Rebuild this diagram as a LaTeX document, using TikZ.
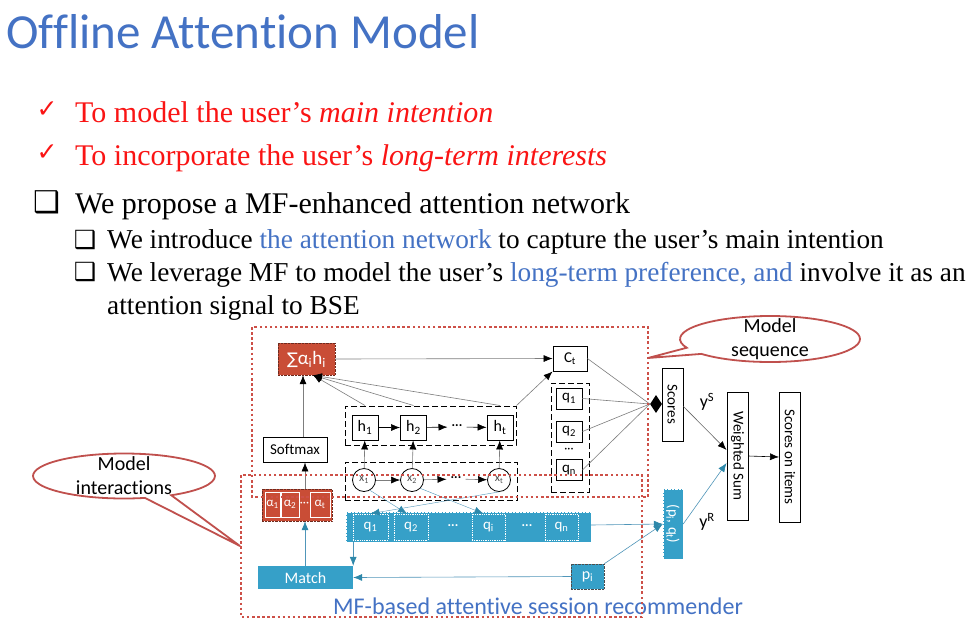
\documentclass[tikz,border=0pt]{standalone}
\usepackage{fontspec}
\setmainfont{Liberation Serif}
\newfontfamily\calib[Ligatures=NoCommon]{Carlito}
\newfontfamily\dejavu{DejaVu Sans}
\usetikzlibrary{arrows.meta,positioning,calc,shapes.geometric,shapes.callouts}
\definecolor{titleblue}{RGB}{68,114,196}
\definecolor{slidered}{RGB}{250,20,20}
\definecolor{boxred}{RGB}{201,77,54}
\definecolor{boxblue}{RGB}{54,160,200}
\definecolor{linkblue}{RGB}{80,150,185}
\definecolor{dotred}{RGB}{205,80,72}
\definecolor{callred}{RGB}{192,80,77}
\definecolor{wire}{RGB}{125,125,125}
\newcommand{\fs}[1]{\fontsize{#1}{#1}\selectfont}

\begin{document}
\begin{tikzpicture}[x=1pt,y=-1pt,>=Latex,
  every node/.style={inner sep=0pt,align=center},
  blk/.style={draw,line width=0.9pt,fill=white,font=\calib\fs{15}},
  redbox/.style={draw=boxred!55!black,densely dotted,fill=boxred,text=white,font=\calib\fs{14}},
  bluebox/.style={draw=white,densely dotted,fill=boxblue,text=white,font=\calib\fs{14}},
  acell/.style={draw=white,line width=0.8pt,minimum height=25,text=white,font=\calib\fs{13}},
  qcell/.style={draw=white,densely dotted,line width=0.8pt,minimum height=26,text=white,font=\calib\fs{15}},
  dashbox/.style={draw,line width=1pt,dash pattern=on 6pt off 3pt},
  xnode/.style={draw,circle,line width=0.8pt,minimum size=23,fill=white,font=\calib\fs{12},text=black!70},
  wirearr/.style={draw=wire,line width=0.6pt,-{Latex[length=9pt,width=7pt,color=black]}},
  chainarr/.style={draw=black,line width=0.6pt,-{Latex[length=9pt,width=7pt]}},
  bluearr/.style={draw=linkblue,line width=0.6pt,-{Latex[length=9pt,width=7pt,color=boxblue!85!black]}},
  region/.style={draw=dotred,line width=2.5pt,dash pattern=on 2.5pt off 2.6pt},
  bubble/.style={ellipse callout,draw=callred,line width=1.8pt,fill=white,callout pointer arc=18},
  bubbletext/.style={font=\calib\fs{20},align=center}
]
\fill[white] (0,0) rectangle (977,625);
\useasboundingbox (0,0) rectangle (977,625);

% slide text
\node[anchor=base west,text=titleblue,font=\calib\fs{49}] (title) at (6,48) {Offline Attention Model};
\node[text=slidered,font=\dejavu\fs{25}] (chk1) at (47,110) {✓};
\node[anchor=base west,text=slidered,font=\fs{30}] (goal1) at (75,122) {To model the user’s \textit{main intention}};
\node[text=slidered,font=\dejavu\fs{25}] (chk2) at (47,153) {✓};
\node[anchor=base west,text=slidered,font=\fs{30}] (goal2) at (75,165) {To incorporate the user’s \textit{long-term interests}};
\node[font=\dejavu\fs{30}] (sq1) at (47,202) {❑};
\node[anchor=base west,font=\fs{30}] (pt1) at (75,213) {We propose a MF-enhanced attention network};
\node[font=\dejavu\fs{25}] (sq2) at (85,240) {❑};
\node[anchor=base west,font=\fs{27.3}] (pt2) at (107,248) {We introduce \textcolor{titleblue}{the attention network} to capture the user’s main intention};
\node[font=\dejavu\fs{25}] (sq3) at (85,272) {❑};
\node[anchor=base west,font=\fs{27.3}] (pt3) at (107,281) {We leverage MF to model the user’s \textcolor{titleblue}{long-term preference, and} involve it as an};
\node[anchor=base west,font=\fs{27.3}] (pt3b) at (107,314) {attention signal to BSE};

% sequence part
\node[redbox,minimum width=57,minimum height=32,font=\calib\fs{19}] (sum) at (306.5,359) {{\dejavu\fs{16}∑}α\textsubscript{i}h\textsubscript{i}};
\node[blk,minimum width=34,minimum height=25] (ct) at (570,358.5) {C\textsubscript{t}};
\node[blk,minimum width=64,minimum height=25] (sm) at (295,449.5) {Softmax};
\node[dashbox,minimum width=171,minimum height=39] (hgrp) at (430.5,425.5) {};
\node[blk,minimum width=26,minimum height=25,font=\calib\fs{16}] (h1) at (365,427.5) {h\textsubscript{1}};
\node[blk,minimum width=26,minimum height=25,font=\calib\fs{16}] (h2) at (413.5,427.5) {h\textsubscript{2}};
\node[blk,minimum width=26,minimum height=25,font=\calib\fs{16}] (ht) at (500,427.5) {h\textsubscript{t}};
\node[font=\calib\fs{14},inner xsep=4pt] (hdots) at (457,427) {···};
\node[dashbox,minimum width=172,minimum height=38] (xgrp) at (431,481) {};
\node[xnode] (x1) at (364,480) {x\textsubscript{1}};
\node[xnode] (x2) at (412,480) {x\textsubscript{2}};
\node[xnode] (xt) at (499,480) {x\textsubscript{t}};
\node[font=\calib\fs{14},inner xsep=4pt] (xdots) at (456,479) {···};
\node[dashbox,minimum width=38,minimum height=109] (qgrp) at (570,437.5) {};
\node[blk,minimum width=26,minimum height=21] (q1) at (569,398.5) {q\textsubscript{1}};
\node[blk,minimum width=26,minimum height=21] (q2) at (569,431.5) {q\textsubscript{2}};
\node[font=\calib\fs{12}] (qdots) at (569,450) {···};
\node[blk,minimum width=26,minimum height=21] (qn) at (569,470) {q\textsubscript{n}};

% output side
\node[diamond,fill=black,minimum width=12,minimum height=18] (dia) at (656,404) {};
\node[blk,minimum width=21,minimum height=73] (scores) at (672.5,404.5) {\rotatebox{-90}{Scores}};
\node[blk,minimum width=21,minimum height=128] (ws) at (737.5,456) {\rotatebox{-90}{Weighted Sum}};
\node[blk,minimum width=21,minimum height=130] (soi) at (790,457) {\rotatebox{-90}{Scores on items}};
\node[bluebox,minimum width=20,minimum height=70,font=\calib\fs{15}] (pq) at (673,524) {\rotatebox{-90}{(p\textsubscript{i}, q\textsubscript{t})}};
\node[font=\calib\fs{18}] (ys) at (707,402) {y\textsuperscript{S}};
\node[font=\calib\fs{18}] (yr) at (707,522) {y\textsuperscript{R}};

% MF part
\node[redbox,minimum width=70,minimum height=32] (alpha) at (297,505) {};
\node[acell,minimum width=15] (a1) at (272.5,504.5) {α\textsubscript{1}};
\node[acell,minimum width=18] (a2) at (290,504.5) {α\textsubscript{2}};
\node[text=white,font=\calib\fs{12}] (adots) at (304.5,504) {···};
\node[acell,minimum width=20] (at) at (320,504.5) {α\textsubscript{t}};
\node[bluebox,minimum width=245,minimum height=30] (qrow) at (468.5,527) {};
\node[qcell,minimum width=35] (qq1) at (370.5,527) {q\textsubscript{1}};
\node[qcell,minimum width=34] (qq2) at (411,527) {q\textsubscript{2}};
\node[text=white,font=\calib\fs{14}] (qqdots) at (453,527) {···};
\node[qcell,minimum width=33] (qqi) at (488.5,527) {q\textsubscript{i}};
\node[text=white,font=\calib\fs{14}] (qqdots2) at (527,527) {···};
\node[qcell,minimum width=33] (qqn) at (561.5,527) {q\textsubscript{n}};
\node[bluebox,draw=none,minimum width=95,minimum height=23,font=\calib\fs{16}] (match) at (305.5,577.5) {Match};
\node[bluebox,draw=black!70,minimum width=33,minimum height=25,font=\calib\fs{16}] (pi) at (587.5,576.5) {p\textsubscript{i}};
\node[anchor=west,text=titleblue,font=\calib\fs{24}] (mflabel) at (333,606) {MF-based attentive session recommender};

% connectors
\draw[wirearr] ([xshift=8pt]alpha.north) -- ([xshift=10pt]sm.south);
\draw[wirearr] ([xshift=8pt]sm.north) -- ([xshift=-3.5pt]sum.south);
\draw[wirearr] (h1 |- hgrp.north) -- ([xshift=6.5pt]sum.south);
\draw[wirearr] (h2 |- hgrp.north) -- ([xshift=6.5pt]sum.south);
\draw[wirearr] (ht |- hgrp.north) -- ([xshift=6.5pt]sum.south);
\draw[wirearr] (hgrp.north east) -- (ct.south west);
\draw[wirearr] (sum.east) -- (ct.west);
\draw[chainarr] (h1) -- (h2);
\draw[chainarr] (h2) -- (hdots);
\draw[chainarr] (hdots) -- (ht);
\draw[wirearr] (x1) -- (h1);
\draw[wirearr] (x2) -- (h2);
\draw[wirearr] (xt) -- (ht);
\draw[wirearr] (x1) -- (x2);
\draw[wirearr] (x2) -- (xdots);
\draw[wirearr] (xdots) -- (xt);
\draw[wire,line width=0.6pt] (ct.east) -- (dia.west);
\draw[wire,line width=0.6pt] (q1.east) -- (dia.west);
\draw[wire,line width=0.6pt] (q2.east) -- (dia.west);
\draw[wire,line width=0.6pt] (qn.east) -- (dia.west);
\draw[wirearr,draw=black!60] ([yshift=-2pt]scores.east) -- ([yshift=6pt]ws.west);
\draw[chainarr] (ws.east) -- (soi.west);
\draw[bluearr] (pq.east) -- ([yshift=-7pt]ws.west);
\draw[bluearr] ([yshift=2pt]qrow.east) -- (pq.west);
\draw[bluearr] (pi.north east) -- (pq.west);
\draw[bluearr] (pi.west) -- (match.east);
\draw[bluearr] (match.north east |- qrow.south) -- (match.north east);
\draw[bluearr] ([xshift=-0.5pt]match.north) -- ([xshift=8pt]alpha.south);
\draw[bluearr,line width=0.4pt] (x1.-60) -- ([xshift=-4pt]qq2.north);
\draw[bluearr,line width=0.4pt] (x2.-45) -- ([xshift=-5pt]qqi.north);
\draw[bluearr,line width=0.4pt] (xt.south) -- (qq1.north);

% dotted regions
\draw[region] (252,327) rectangle (648,497);
\draw[region] (241,475) rectangle (642,617);

% callouts
\coordinate (seqtip) at (648,358);
\coordinate (inttip) at (240,546);
\node[bubble,minimum width=180,minimum height=46,callout absolute pointer=(seqtip)] (seqcall) at (770,339) {};
\node[bubbletext] (seqtext) at (770,339) {Model\\[4pt]sequence};
\node[bubble,minimum width=182,minimum height=45,callout absolute pointer=(inttip)] (intcall) at (124,476) {};
\node[bubbletext] (inttext) at (124,476) {Model\\[4pt]interactions};
\end{tikzpicture}
\end{document}
